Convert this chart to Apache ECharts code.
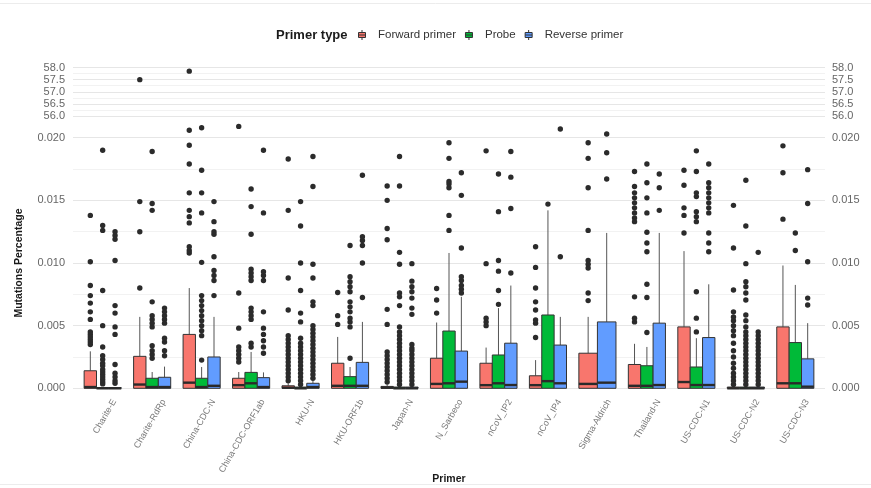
<!DOCTYPE html>
<html>
<head>
<meta charset="utf-8">
<title>Mutations Percentage by Primer</title>
<script src="https://cdn.jsdelivr.net/npm/echarts@6/dist/echarts.min.js"></script>
<style>
  html, body { margin: 0; padding: 0; background: #fff; }
  #main { width: 871px; height: 488px; }
</style>
</head>
<body>
<div id="main"></div>
<script>
const categories = ['Charite-E', 'Charite-RdRp', 'China-CDC-N', 'China-CDC-ORF1ab', 'HKU-N',
  'HKU-ORF1b', 'Japan-N', 'N_Sarbeco', 'nCoV_IP2', 'nCoV_IP4', 'Sigma-Aldrich',
  'Thailand-N', 'US-CDC-N1', 'US-CDC-N2', 'US-CDC-N3'];
const primerTypes = ['Forward primer', 'Probe', 'Reverse primer'];
const primerColors = ['#F8766D', '#00BA38', '#619CFF'];

// tick labels of the two panels (broken y axis)
const upperTicks = [56, 56.5, 57, 57.5, 58];
const lowerTicks = [0, 0.005, 0.01, 0.015, 0.02];

// box stats: [lower whisker, Q1, median, Q3, upper whisker], null = no box
const forwardBoxes = [
  [0, 0, 0.0001, 0.0014, 0.00295],
  [0, 0, 0.0003, 0.00255, 0.0057],
  [0, 0, 0.00045, 0.0043, 0.008],
  [0, 0, 0.00025, 0.0008, 0.0013],
  [0, 0, 0.00005, 0.0002, 0.0004],
  [0, 0, 0.0002, 0.002, 0.0041],
  [0, 0, 0.00005, 0.00015, 0.0003],
  [0, 0, 0.00035, 0.0024, 0.00525],
  [0, 0, 0.00025, 0.002, 0.00325],
  [0, 0, 0.00025, 0.001, 0.00225],
  [0, 0, 0.00035, 0.0028, 0.0057],
  [0, 0, 0.0002, 0.0019, 0.00355],
  [0, 0, 0.0005, 0.0049, 0.01095],
  [0, 0, 0, 0.0001, 0.0002],
  [0, 0, 0.0004, 0.0049, 0.0098]
];
const probeBoxes = [
  [0, 0, 0, 0.00005, 0.0001],
  [0, 0, 0.0001, 0.0008, 0.0013],
  [0, 0, 0.0001, 0.0008, 0.0017],
  [0, 0, 0.0004, 0.00127, 0.0029],
  [0, 0, 0, 0.0001, 0.0002],
  [0, 0, 0.0002, 0.00093, 0.0017],
  [0, 0, 0, 0.0001, 0.0002],
  [0, 0, 0.0004, 0.00457, 0.0108],
  [0, 0, 0.0004, 0.00266, 0.0064],
  [0, 0, 0.00057, 0.00585, 0.0142],
  null,
  [0, 0, 0.0002, 0.0018, 0.0033],
  [0, 0, 0.00026, 0.0017, 0.004],
  [0, 0, 0, 0.0001, 0.0002],
  [0, 0, 0.0004, 0.00365, 0.00825]
];
const reverseBoxes = [
  [0, 0, 0, 0.00005, 0.0001],
  [0, 0, 0.0001, 0.00088, 0.00173],
  [0, 0, 0.0002, 0.0025, 0.0057],
  [0, 0, 0.0001, 0.00085, 0.00127],
  [0, 0, 0.0001, 0.0004, 0.0006],
  [0, 0, 0.0002, 0.00207, 0.0053],
  [0, 0, 0, 0.0001, 0.0002],
  [0, 0, 0.00053, 0.00297, 0.0073],
  [0, 0, 0.00026, 0.0036, 0.0082],
  [0, 0, 0.0004, 0.00345, 0.0057],
  [0, 0, 0.00045, 0.0053, 0.0124],
  [0, 0, 0.00026, 0.0052, 0.0124],
  [0, 0, 0.00026, 0.00405, 0.0083],
  [0, 0, 0, 0.0001, 0.0002],
  [0, 0, 0.00013, 0.00235, 0.0052]
];

// outliers per primer (lower panel)
const forwardOutliers = [
  [0.0035, 0.0037, 0.0039, 0.0041, 0.0043, 0.0045, 0.0055, 0.0061, 0.0068, 0.0074, 0.0082, 0.0101, 0.0138],
  [0.008, 0.0125, 0.0149],
  [0.0108, 0.011, 0.0113, 0.0132, 0.0137, 0.0142, 0.0156, 0.0179, 0.0194, 0.0206],
  [0.0021, 0.0024, 0.0027, 0.003, 0.0033, 0.0048, 0.0076, 0.0209],
  [0.0006, 0.0009, 0.0012, 0.0015, 0.0018, 0.0021, 0.0024, 0.0027, 0.003, 0.0033, 0.0036, 0.0039, 0.0042, 0.00625, 0.0088, 0.0142, 0.0183],
  [0.0051, 0.0058, 0.00765],
  [0.0005, 0.0008, 0.0011, 0.0014, 0.0017, 0.002, 0.0023, 0.0026, 0.0029, 0.0051, 0.0063, 0.01185, 0.01275, 0.015, 0.01615],
  [0.006, 0.00705, 0.00797],
  [0.005, 0.0053, 0.0056, 0.00995, 0.01895],
  [0.00405, 0.0052, 0.00545, 0.00625, 0.0069, 0.008, 0.00965, 0.0113],
  [0.007, 0.0076, 0.0096, 0.0099, 0.0102, 0.0126, 0.016, 0.01835, 0.0196],
  [0.0053, 0.0056, 0.0073, 0.0133, 0.0136, 0.014, 0.0144, 0.0148, 0.0152, 0.0156, 0.0161, 0.0173],
  [0.0124, 0.0138, 0.0144, 0.0162, 0.0174],
  [0.0003, 0.0006, 0.0009, 0.0012, 0.0016, 0.002, 0.0025, 0.003, 0.0036, 0.0042, 0.0046, 0.005, 0.0054, 0.0057, 0.0061, 0.00785, 0.0112, 0.0146],
  [0.0135, 0.0172, 0.01935]
];
const probeOutliers = [
  [0.00035, 0.0005, 0.0007, 0.0009, 0.0011, 0.0013, 0.0015, 0.0018, 0.002, 0.0023, 0.0026, 0.0033, 0.005, 0.0078, 0.0126, 0.013, 0.019],
  [0.0024, 0.0027, 0.003, 0.0034, 0.0049, 0.0052, 0.0055, 0.0058, 0.0069, 0.0142, 0.01475, 0.0189],
  [0.00225, 0.0042, 0.0046, 0.005, 0.0054, 0.0058, 0.0062, 0.0066, 0.007, 0.0074, 0.01005, 0.014, 0.0156, 0.0174, 0.0208],
  [0.0033, 0.0036, 0.0055, 0.0058, 0.0061, 0.0064, 0.0086, 0.0089, 0.0092, 0.0095, 0.0123, 0.0145, 0.0159],
  [0.0003, 0.0006, 0.0009, 0.0012, 0.0015, 0.0018, 0.0021, 0.0024, 0.0027, 0.003, 0.0033, 0.0036, 0.004, 0.0053, 0.006, 0.0078, 0.01, 0.01295, 0.0149],
  [0.0024, 0.0049, 0.0053, 0.0056, 0.0061, 0.0065, 0.0069, 0.0077, 0.0081, 0.0085, 0.0089, 0.0114],
  [0.0003, 0.0006, 0.0009, 0.0012, 0.0015, 0.0018, 0.0021, 0.0024, 0.0027, 0.003, 0.0033, 0.0036, 0.0039, 0.0042, 0.0045, 0.0049, 0.0066, 0.0073, 0.0076, 0.0099, 0.01085, 0.01615, 0.0185],
  [0.0126, 0.0138, 0.016, 0.0163, 0.0165, 0.01835, 0.0196],
  [0.0067, 0.0078, 0.00935, 0.0102, 0.0141, 0.0171],
  [0.0147],
  [],
  [0.00445, 0.00725, 0.0083, 0.0109, 0.0116, 0.01245, 0.014, 0.0152, 0.0164, 0.0179],
  [0.0045, 0.0056, 0.0077, 0.0133, 0.0137, 0.0141, 0.0153, 0.0156, 0.0173, 0.01895],
  [0.0003, 0.0006, 0.0009, 0.0012, 0.0015, 0.0018, 0.0021, 0.0024, 0.0027, 0.003, 0.0033, 0.0036, 0.0039, 0.0042, 0.0045, 0.0049, 0.0054, 0.00585, 0.00705, 0.0076, 0.0081, 0.0085, 0.00995, 0.01295, 0.0166],
  [0.011, 0.0124]
];
const reverseOutliers = [
  [0.0004, 0.0006, 0.0009, 0.0012, 0.0019, 0.0043, 0.0049, 0.006, 0.0066, 0.0102, 0.0119, 0.0122, 0.0125],
  [0.0026, 0.003, 0.0037, 0.004, 0.0052, 0.0055, 0.0058, 0.0061, 0.0064],
  [0.0074, 0.0086, 0.009, 0.0094, 0.0105, 0.0123, 0.0125, 0.0133, 0.0149],
  [0.0028, 0.0033, 0.0038, 0.0043, 0.0048, 0.0061, 0.0086, 0.009, 0.0093, 0.014, 0.019],
  [0.0008, 0.0011, 0.0014, 0.0017, 0.002, 0.0023, 0.0026, 0.0029, 0.0032, 0.0035, 0.0038, 0.0041, 0.0044, 0.0047, 0.005, 0.0066, 0.0069, 0.0088, 0.0099, 0.0161, 0.0185],
  [0.00725, 0.01, 0.0114, 0.0118, 0.0121, 0.017],
  [0.0003, 0.0006, 0.0009, 0.0012, 0.0015, 0.0018, 0.0021, 0.0024, 0.0027, 0.003, 0.0032, 0.0035, 0.0059, 0.0064, 0.0072, 0.0077, 0.0081, 0.00855, 0.00995],
  [0.0076, 0.0079, 0.0082, 0.0086, 0.0089, 0.0112, 0.0154, 0.0172],
  [0.0092, 0.01435, 0.01685, 0.0189],
  [0.0105, 0.0207],
  [0.0167, 0.0188, 0.0203],
  [0.0142, 0.016, 0.0171],
  [0.0109, 0.0116, 0.0124, 0.014, 0.0144, 0.0148, 0.0152, 0.0156, 0.016, 0.0164, 0.0179],
  [0.0003, 0.0006, 0.0009, 0.0012, 0.0015, 0.0018, 0.0021, 0.0024, 0.0027, 0.003, 0.0033, 0.0036, 0.0039, 0.0042, 0.0045, 0.01085],
  [0.00665, 0.0072, 0.0101, 0.01475, 0.01745]
];
// outliers that land in the upper panel (56 - 58)
const forwardOutliersHigh = [[], [57.5], [57.85], [], [], [], [], [], [], [], [], [], [], [], []];

const boxSets = [forwardBoxes, probeBoxes, reverseBoxes];
const outlierSets = [forwardOutliers, probeOutliers, reverseOutliers];

// ggplot-like dodge: boxes of one category share 0.75 of the band
function dodge(k, cat) {
  const present = [];
  boxSets.forEach(function (b, j) { if (b[cat]) present.push(j); });
  const w = 0.75 / present.length;
  const pos = present.indexOf(k);
  return { x: cat - 0.375 + w * (pos + 0.5), w: w };
}

function boxSeries(k) {
  const data = [];
  boxSets[k].forEach(function (b, i) { if (b) data.push([i].concat(b)); });
  return {
    name: primerTypes[k],
    type: 'custom',
    xAxisIndex: 1,
    yAxisIndex: 2,
    itemStyle: { color: primerColors[k] },
    encode: { x: 0, y: [1, 2, 3, 4, 5] },
    data: data,
    renderItem: function (params, api) {
      const d = dodge(k, api.value(0));
      const xl = api.coord([d.x - d.w / 2, 0])[0];
      const xr = api.coord([d.x + d.w / 2, 0])[0];
      const xc = api.coord([d.x, 0])[0];
      const y = [1, 2, 3, 4, 5].map(function (j) { return api.coord([d.x, api.value(j)])[1]; });
      return {
        type: 'group',
        children: [
          { type: 'line', shape: { x1: xc, y1: y[0], x2: xc, y2: y[1] }, style: { stroke: '#555', lineWidth: 1 } },
          { type: 'line', shape: { x1: xc, y1: y[3], x2: xc, y2: y[4] }, style: { stroke: '#555', lineWidth: 1 } },
          { type: 'rect', shape: { x: xl, y: y[3], width: xr - xl, height: y[1] - y[3] },
            style: { fill: primerColors[k], stroke: '#333', lineWidth: 1 } },
          { type: 'line', shape: { x1: xl, y1: y[2], x2: xr, y2: y[2] }, style: { stroke: '#2a2a2a', lineWidth: 2.4 } }
        ]
      };
    }
  };
}

function outlierSeries(k, lists, xIdx, yIdx) {
  const data = [];
  lists.forEach(function (vals, i) { vals.forEach(function (v) { data.push([i, v]); }); });
  return {
    name: primerTypes[k],
    type: 'custom',
    xAxisIndex: xIdx,
    yAxisIndex: yIdx,
    itemStyle: { color: primerColors[k] },
    encode: { x: 0, y: 1 },
    data: data,
    renderItem: function (params, api) {
      const d = dodge(k, api.value(0));
      const p = api.coord([d.x, api.value(1)]);
      return { type: 'circle', shape: { cx: p[0], cy: p[1], r: 2.7 }, style: { fill: '#2b2b2b' } };
    }
  };
}

const gridLine = { show: true, lineStyle: { color: '#e6e6e6', width: 1 } };
const minorLine = { show: true, lineStyle: { color: '#f2f2f2', width: 1 } };
const tickText = { color: '#666', fontSize: 11, fontFamily: 'Liberation Sans, Arial, sans-serif' };

function yAxisDef(grid, ticks, digits, right) {
  return {
    type: 'value',
    gridIndex: grid,
    position: right ? 'right' : 'left',
    min: ticks[0],
    max: ticks[ticks.length - 1],
    interval: ticks[1] - ticks[0],
    axisLine: { show: false },
    axisTick: { show: false },
    axisLabel: Object.assign({ margin: right ? 7 : 8, formatter: function (v) { return v.toFixed(digits); } }, tickText),
    splitLine: right ? { show: false } : gridLine,
    minorTick: { show: false, splitNumber: 2 },
    minorSplitLine: right ? { show: false } : minorLine
  };
}

const chart = echarts.init(document.getElementById('main'), null, { renderer: 'canvas' });

const series = [0, 1, 2].map(boxSeries)
  .concat([0, 1, 2].map(function (k) { return outlierSeries(k, outlierSets[k], 1, 2); }))
  .concat([outlierSeries(0, forwardOutliersHigh, 0, 0)]);

chart.setOption({
  backgroundColor: '#fff',
  animation: false,
  textStyle: { fontFamily: 'Liberation Sans, Arial, sans-serif' },
  title: {
    text: 'Primer type',
    left: 271,
    top: 24,
    textStyle: { fontSize: 13, fontWeight: 'bold', color: '#1a1a1a' }
  },
  legend: {
    data: primerTypes,
    left: 353,
    top: 24,
    itemWidth: 22,
    itemHeight: 10,
    itemGap: 9,
    icon: 'path://M0,2.5h7v5h-7zM0,5h7M3.5,0v2.5M3.5,7.5v2.5',
    itemStyle: { borderColor: '#333', borderWidth: 1 },
    textStyle: { fontSize: 11.5, color: '#333' }
  },
  grid: [
    { left: 73, right: 46, top: 67.5, height: 48.5, outerBoundsMode: 'none', containLabel: false },
    { left: 73, right: 46, top: 137.7, height: 250.6, outerBoundsMode: 'none', containLabel: false }
  ],
  xAxis: [
    { type: 'value', gridIndex: 0, min: -0.6, max: 14.6, show: false },
    {
      type: 'value',
      gridIndex: 1,
      min: -0.6,
      max: 14.6,
      axisLine: { show: false },
      axisTick: { show: false },
      splitLine: { show: false },
      axisLabel: {
        customValues: categories.map(function (c, i) { return i; }),
        formatter: function (v) { return categories[Math.round(v)]; },
        rotate: 60,
        margin: 5,
        verticalAlign: 'top',
        padding: [9, 0, 0, 0],
        color: '#777',
        fontSize: 9
      },
      name: 'Primer',
      nameLocation: 'middle',
      nameGap: 85,
      nameMoveOverlap: false,
      nameTextStyle: { fontWeight: 'bold', fontSize: 10.5, color: '#1a1a1a' }
    }
  ],
  yAxis: [
    yAxisDef(0, upperTicks, 1, false),
    yAxisDef(0, upperTicks, 1, true),
    Object.assign(yAxisDef(1, lowerTicks, 3, false), {
      name: 'Mutations Percentage',
      nameLocation: 'middle',
      nameGap: 48,
      nameMoveOverlap: false,
      nameTextStyle: { fontWeight: 'bold', fontSize: 10.5, color: '#1a1a1a' }
    }),
    yAxisDef(1, lowerTicks, 3, true)
  ],
  graphic: [
    { type: 'line', shape: { x1: 0, y1: 3.5, x2: 871, y2: 3.5 }, style: { stroke: '#ececec', lineWidth: 1 } },
    { type: 'line', shape: { x1: 0, y1: 484.5, x2: 871, y2: 484.5 }, style: { stroke: '#ececec', lineWidth: 1 } }
  ],
  series: series
});
</script>
</body>
</html>
